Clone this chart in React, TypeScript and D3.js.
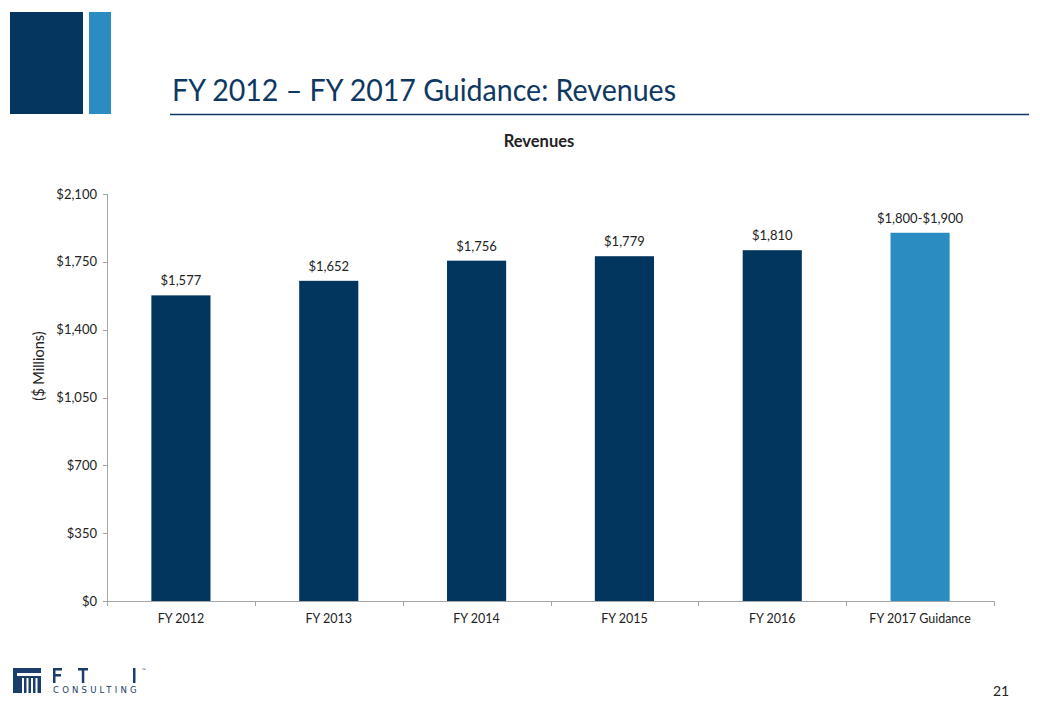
import React from "react";
import * as d3 from "d3";

const categories = ["FY 2012", "FY 2013", "FY 2014", "FY 2015", "FY 2016", "FY 2017 Guidance"];
const revenues = [1577, 1652, 1756, 1779, 1810, 1900];
const valueLabels = ["$1,577", "$1,652", "$1,756", "$1,779", "$1,810", "$1,800-$1,900"];
const isGuidance = [false, false, false, false, false, true];
const yTicks = [0, 350, 700, 1050, 1400, 1750, 2100];

const DARK = "#03365f";
const LIGHT = "#2a8cc1";
const FONT = "Lato, 'Open Sans', sans-serif";

export default function App() {
  const W = 1040, H = 720;
  const left = 107, right = 994, top = 194, bottom = 601;
  const x = d3.scaleBand<string>().domain(categories).range([left, right]).paddingInner(0.6).paddingOuter(0.3);
  const y = d3.scaleLinear().domain([0, 2100]).range([bottom, top]);
  const fmt = (v: number) => "$" + d3.format(",")(v);
  const boundaries = d3.range(categories.length + 1).map((i) => left + i * ((right - left) / categories.length));
  const logo = "#1a3d6b";

  return (
    <svg width={W} height={H} style={{ position: "absolute", left: 0, top: 0, background: "#fff" }} fontFamily={FONT}>
      <rect x={0} y={0} width={W} height={H} fill="#fff" />
      {/* header blocks */}
      <rect x={10} y={12} width={73} height={102} fill="#05365f" />
      <rect x={89} y={12} width={22} height={102} fill={LIGHT} />
      <text x={172} y={101} fontSize={31} fill="#0e3862" textLength={504} lengthAdjust="spacingAndGlyphs">FY 2012 – FY 2017 Guidance: Revenues</text>
      <line x1={170} x2={1029} y1={114.5} y2={114.5} stroke="#0e3862" strokeWidth={1.5} />

      {/* chart title */}
      <text x={539} y={147} textAnchor="middle" fontSize={16.5} fontWeight="bold" fill="#222">Revenues</text>

      {/* bars */}
      {categories.map((c, i) => (
        <g key={c}>
          <rect x={x(c)} y={y(revenues[i])} width={x.bandwidth()} height={bottom - y(revenues[i])} fill={isGuidance[i] ? LIGHT : DARK} />
          <text x={(x(c) as number) + x.bandwidth() / 2} y={y(revenues[i]) - 10} textAnchor="middle" fontSize={13} fill="#222">{valueLabels[i]}</text>
          <text x={(x(c) as number) + x.bandwidth() / 2} y={623} textAnchor="middle" fontSize={12.5} fill="#222">{c}</text>
        </g>
      ))}

      {/* y axis */}
      <line x1={left + 0.5} x2={left + 0.5} y1={top} y2={bottom} stroke="#a6a6a6" strokeWidth={1} />
      {yTicks.map((t) => (
        <g key={t}>
          <line x1={left - 4} x2={left} y1={Math.round(y(t)) + 0.5} y2={Math.round(y(t)) + 0.5} stroke="#a6a6a6" />
          <text x={left - 10} y={y(t) + 4.5} textAnchor="end" fontSize={13} fill="#222">{fmt(t)}</text>
        </g>
      ))}
      {/* x axis */}
      <line x1={left} x2={right} y1={bottom + 0.5} y2={bottom + 0.5} stroke="#a6a6a6" strokeWidth={1} />
      {boundaries.map((b, i) => (
        <line key={i} x1={Math.round(b) + 0.5} x2={Math.round(b) + 0.5} y1={bottom} y2={bottom + 5} stroke="#a6a6a6" />
      ))}
      <text transform={`translate(44, 366) rotate(-90)`} textAnchor="middle" fontSize={14.5} fill="#222">($ Millions)</text>

      {/* logo */}
      <g>
        <rect x={13} y={668} width={28} height={25} fill={logo} />
        <rect x={17} y={673} width={24} height={3} fill="#fff" />
        {[0, 1, 2, 3].map((k) => (
          <rect key={k} x={22 + k * 4.5} y={678} width={2} height={15} fill="#fff" />
        ))}
        <rect x={13} y={672} width={4} height={21} fill={logo} />
        {/* F */}
        <rect x={53} y={668} width={2.5} height={15} fill={logo} />
        <rect x={53} y={668} width={9} height={2.5} fill={logo} />
        <rect x={53} y={674} width={8} height={2.5} fill={logo} />
        {/* T */}
        <rect x={78} y={668} width={10} height={2.5} fill={logo} />
        <rect x={81.8} y={668} width={2.5} height={15} fill={logo} />
        {/* I */}
        <rect x={133} y={668} width={2.5} height={15} fill={logo} />
        <text x={142} y={672} fontSize={5} fill={logo}>™</text>
        <text x={53} y={693} fontSize={8.5} fill={logo} letterSpacing={3.2} fontFamily="'DejaVu Sans', sans-serif">CONSULTING</text>
      </g>

      <text x={1001} y={696} textAnchor="middle" fontSize={14} fill="#222">21</text>
    </svg>
  );
}
